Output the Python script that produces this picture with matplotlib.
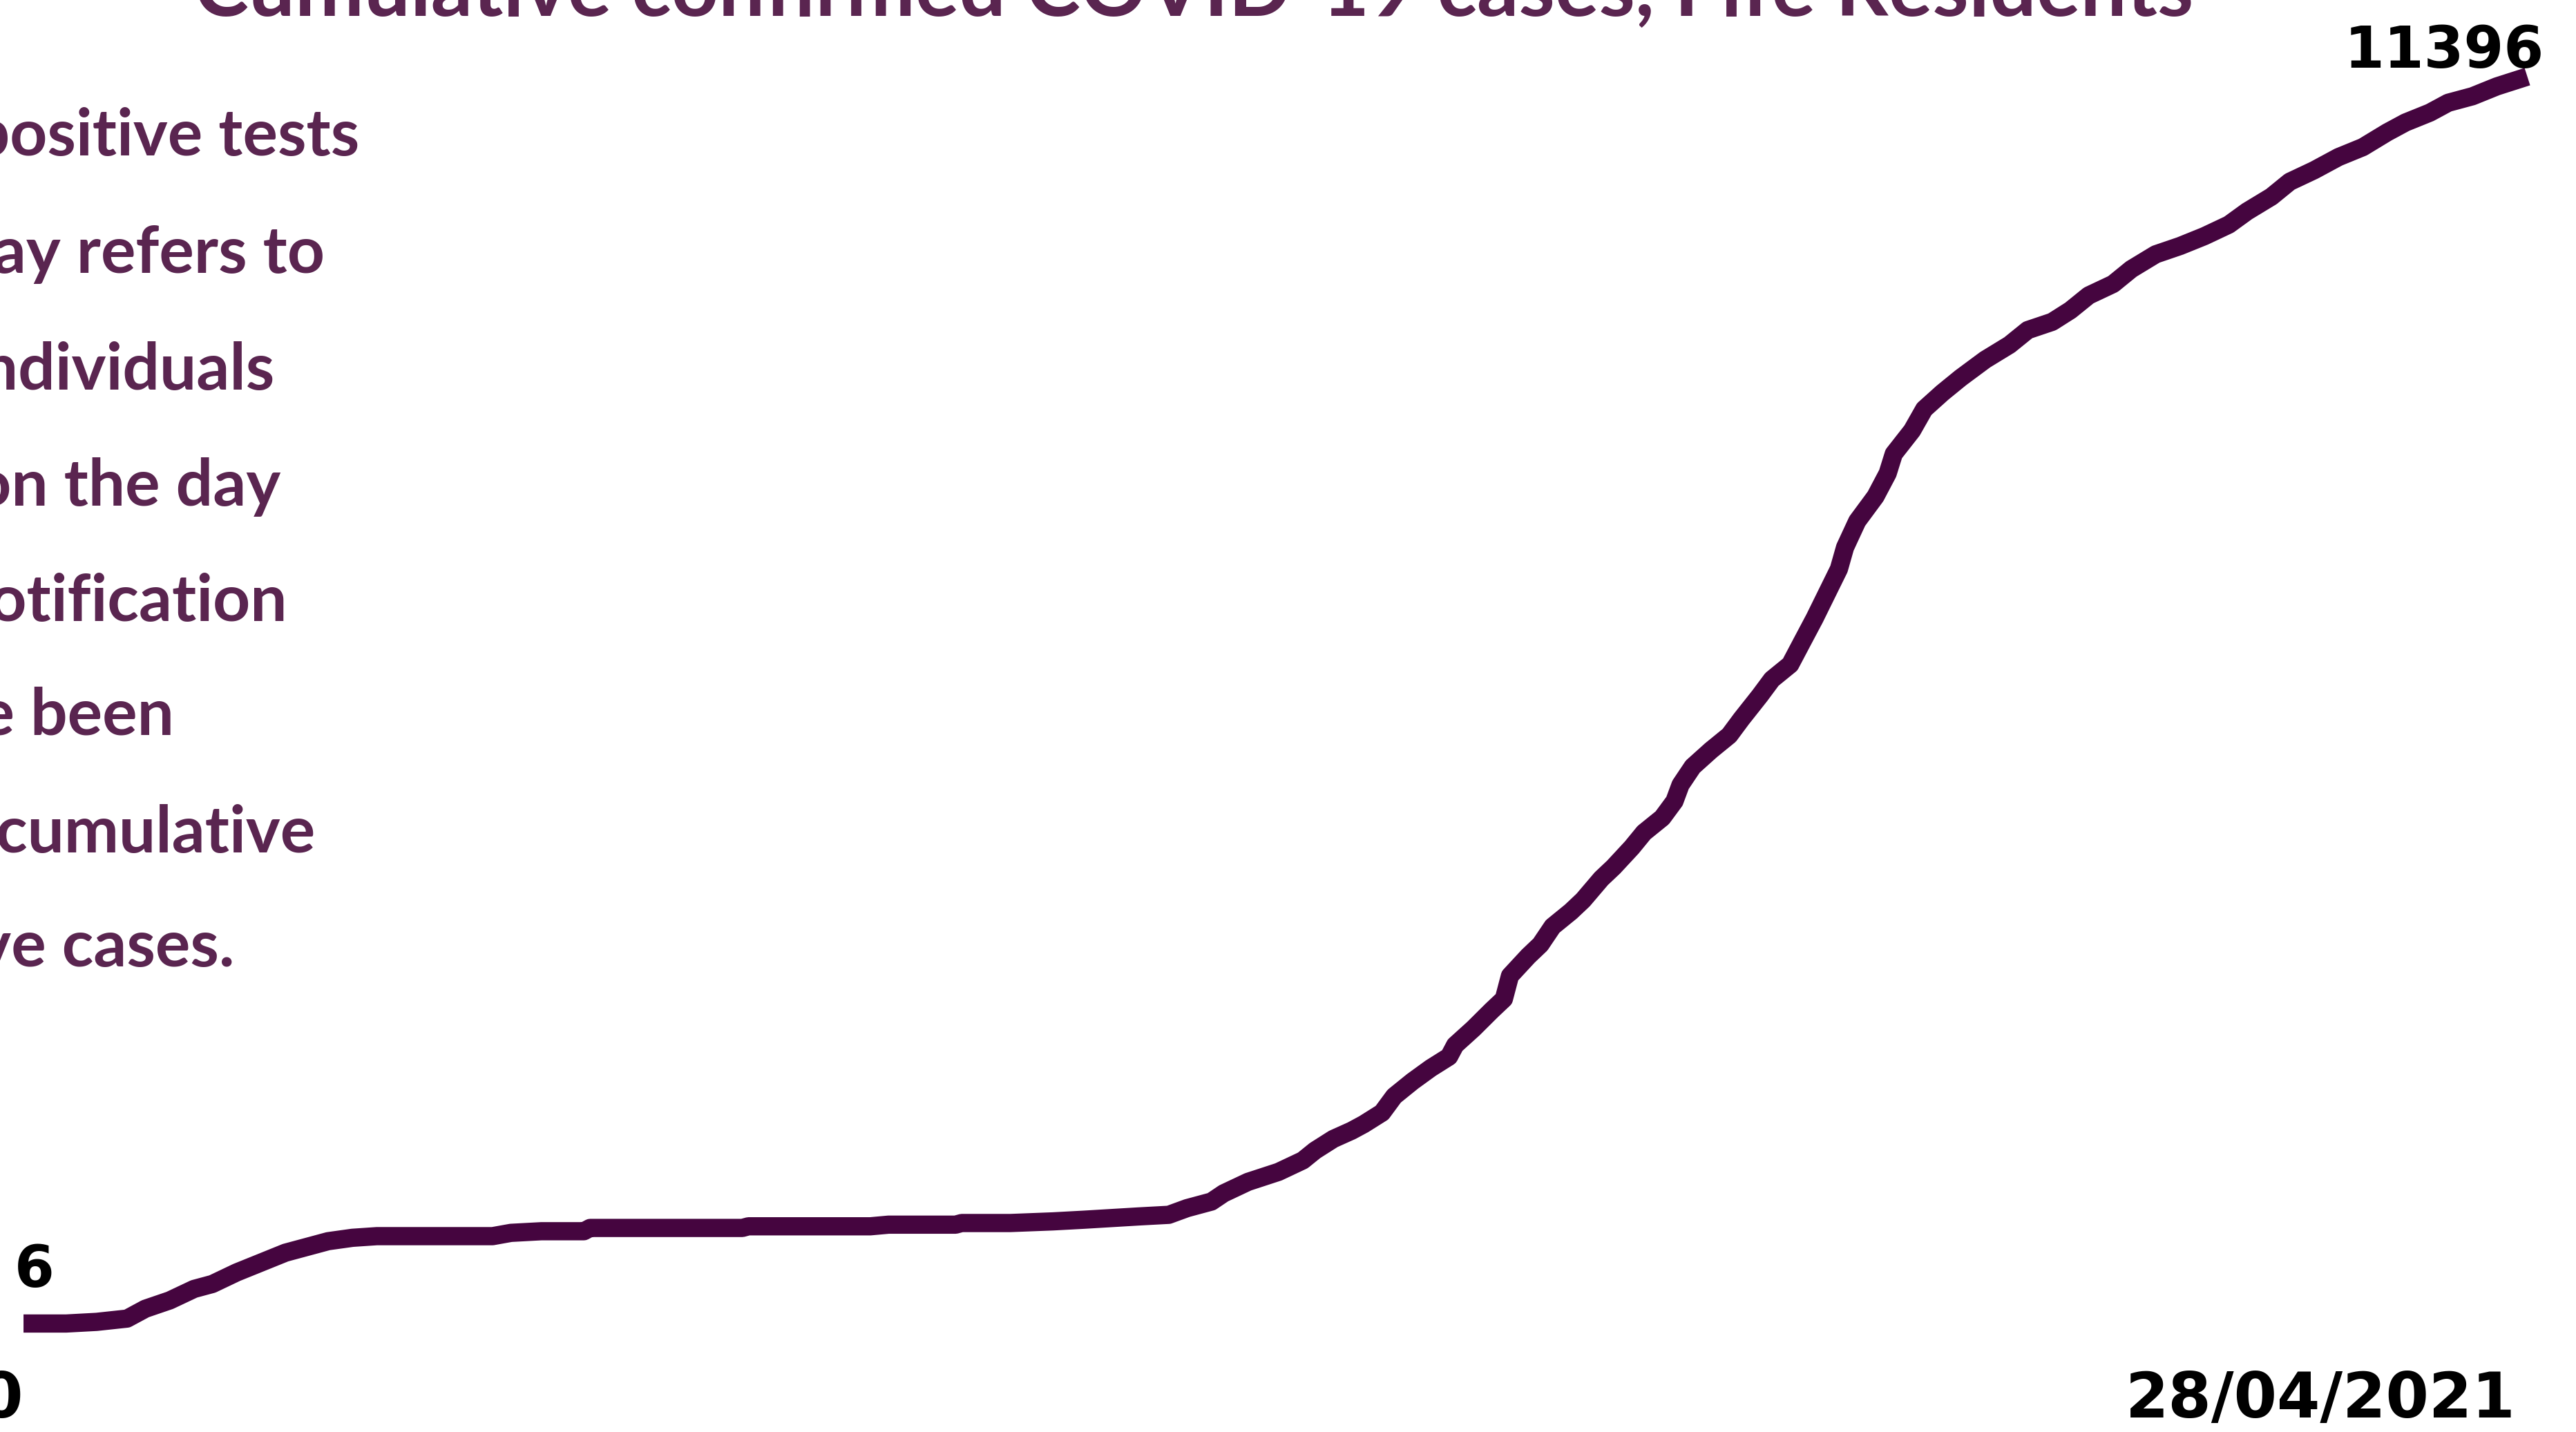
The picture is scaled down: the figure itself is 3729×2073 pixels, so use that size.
import matplotlib
matplotlib.use("Agg")
import matplotlib.pyplot as plt
import matplotlib.dates as mdates
import datetime as dt

# ---------------- data ----------------
start_date = "2020-03-13"
day_offsets = [0, 7, 12, 17, 20, 24, 28, 31, 35, 39, 43, 47, 50, 54, 58, 66, 77, 80,
               85, 92, 93, 104, 118, 119, 139, 142, 153, 154, 162, 169, 174, 183, 188,
               191, 195, 197, 201, 206, 210, 212, 215, 218, 220, 223, 225, 228, 231,
               234, 235, 238, 241, 243, 244, 247, 249, 251, 254, 256, 259, 261, 264,
               266, 269, 271, 272, 274, 277, 280, 282, 285, 287, 290, 292, 294, 296,
               298, 299, 301, 304, 306, 307, 310, 312, 315, 318, 322, 326, 329, 333,
               336, 339, 343, 346, 350, 354, 358, 362, 365, 369, 372, 376, 380, 384,
               388, 391, 395, 398, 402, 406, 411]
cumulative_cases = [6, 6, 21, 51, 141, 217, 322, 367, 473, 563, 653, 713, 758, 789, 804,
                    804, 804, 834, 849, 849, 879, 879, 879, 894, 894, 909, 909, 924, 924,
                    939, 954, 984, 999, 1060, 1120, 1195, 1300, 1391, 1496, 1586, 1692,
                    1767, 1827, 1932, 2083, 2218, 2339, 2444, 2549, 2700, 2866, 2971,
                    3182, 3362, 3468, 3633, 3769, 3874, 4070, 4175, 4355, 4491, 4626,
                    4777, 4927, 5093, 5243, 5379, 5529, 5740, 5890, 6026, 6237, 6447,
                    6673, 6899, 7095, 7335, 7561, 7772, 7950, 8163, 8359, 8509, 8645,
                    8810, 8946, 9081, 9156, 9262, 9397, 9502, 9638, 9773, 9849, 9939,
                    10044, 10165, 10300, 10436, 10541, 10661, 10752, 10887, 10977,
                    11067, 11157, 11217, 11307, 11396]

title_text = "Cumulative confirmed COVID-19 cases, Fife Residents"
note_lines = ["Number of positive tests",
              "reported on a given day refers to",
              "the number of individuals",
              "testing positive on the day",
              "of laboratory notification",
              "who have been",
              "included in the cumulative",
              "total of positive cases."]

# ---------------- styling ----------------
W, H = 3730, 2073
LINE_COLOR = "#45053f"
TEXT_COLOR = "#5a2550"

fig = plt.figure(figsize=(W / 100, H / 100), dpi=100)
fig.patch.set_facecolor("white")
ax = fig.add_axes([0, 0, 1, 1])
ax.axis("off")

d0 = dt.date.fromisoformat(start_date)
dates = [d0 + dt.timedelta(days=d) for d in day_offsets]

ax.plot(dates, cumulative_cases, color=LINE_COLOR, lw=19,
        solid_capstyle="butt", solid_joinstyle="round")

x0 = mdates.date2num(d0)
ax.set_xlim(x0 - 3.86, x0 + 419.1)
ax.set_ylim(-985, 12096)


def fx(px):
    return px / W


def fy(py):
    return 1 - py / H


renderer = fig.canvas.get_renderer()


def fit_width(t, target):
    w = t.get_window_extent(renderer).width
    t.set_fontsize(t.get_fontsize() * target / w)


# title (partly cut by the top edge)
t = fig.text(fx(1728), fy(23), title_text, ha="center", va="baseline",
             family="Lato", weight="bold", color=TEXT_COLOR, fontsize=80)
fit_width(t, 2895)

# explanatory note on the left (cut by the left edge)
right_edges = [520, 470, 397, 406, 416, 252, 456, 340]
baselines = [225, 395, 564, 732, 899, 1064, 1234, 1399]
for line, rx, by in zip(note_lines, right_edges, baselines):
    fig.text(fx(rx), fy(by), line, ha="right", va="baseline",
             family="Lato", weight="bold", color=TEXT_COLOR, fontsize=68)

# value labels
t_end = fig.text(fx(3683), fy(98), f"{cumulative_cases[-1]}", ha="right",
                 va="baseline", family="DejaVu Sans", weight="bold",
                 color="black", fontsize=55)
fit_width(t_end, 289)
fig.text(fx(50), fy(1863), f"{cumulative_cases[0]}", ha="center", va="baseline",
         family="DejaVu Sans", weight="bold", color="black",
         fontsize=t_end.get_fontsize())

# date labels
t_d1 = fig.text(fx(3642), fy(2052), f"{dates[-1]:%d/%m/%Y}", ha="right",
                va="baseline", family="DejaVu Sans", weight="bold",
                color="black", fontsize=55)
fit_width(t_d1, 565)
fig.text(fx(34), fy(2052), f"{dates[0]:%d/%m/%Y}", ha="right", va="baseline",
         family="DejaVu Sans", weight="bold", color="black",
         fontsize=t_d1.get_fontsize())

fig.savefig("out.png", dpi=100, facecolor="white")
